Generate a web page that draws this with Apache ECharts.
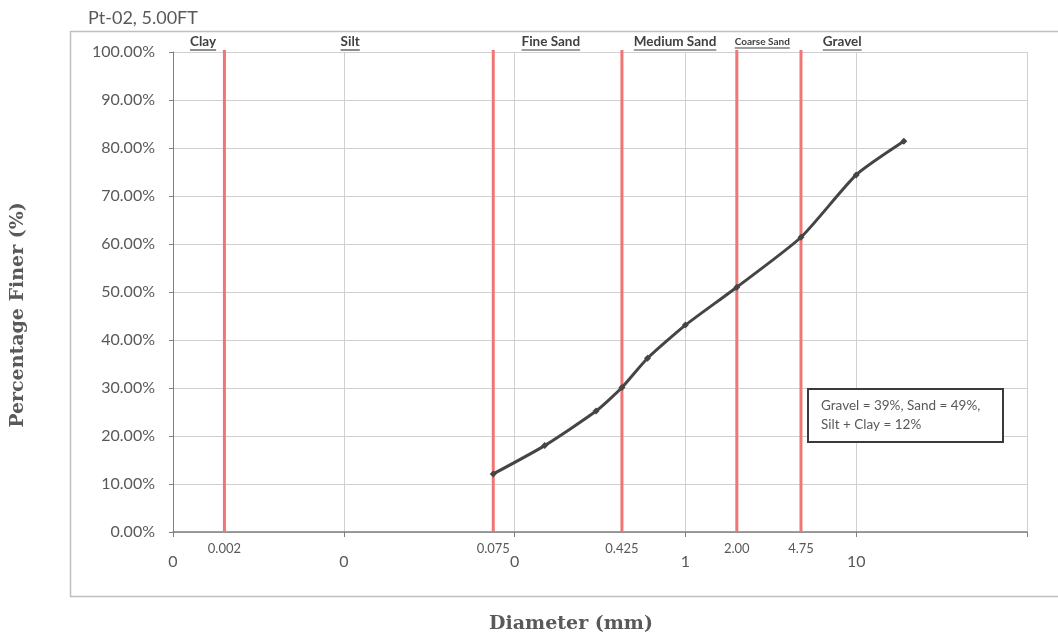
<!DOCTYPE html>
<html>
<head>
<meta charset="utf-8">
<script src="https://cdn.jsdelivr.net/npm/echarts@6/dist/echarts.min.js"></script>
<style>html,body{margin:0;padding:0;background:#fff}#c{width:1058px;height:640px}</style>
</head>
<body>
<div id="c"></div>
<script>
// Data
var diameters = [0.075, 0.15, 0.3, 0.425, 0.6, 1, 2, 4.75, 10, 19];
var percentFiner = [12.1, 18.0, 25.2, 30.1, 36.2, 43.1, 51.0, 61.4, 74.4, 81.4];
var boundaryValues = [0.002, 0.075, 0.425, 2.0, 4.75];
var boundaryLabels = ['0.002', '0.075', '0.425', '2.00', '4.75'];
var zoneNames = ['Clay', 'Silt', 'Fine Sand', 'Medium Sand', 'Coarse Sand', 'Gravel'];
var zonePositions = [0.0015, 0.0109, 0.163, 0.87, 2.82, 8.28];
var yTicks = [0, 10, 20, 30, 40, 50, 60, 70, 80, 90, 100];
var titleText = 'Pt-02, 5.00FT';
var noteLines = ['Gravel = 39%, Sand = 49%,', 'Silt + Clay = 12%'];

var labelFont = 'Lato, "Noto Sans", sans-serif';
var serifFont = '"DejaVu Serif", serif';

var measureCtx = document.createElement('canvas').getContext('2d');
function textWidth(t, font) { measureCtx.font = font; return measureCtx.measureText(t).width; }

var chart = echarts.init(document.getElementById('c'), null, {renderer: 'canvas'});

var option = {
  backgroundColor: '#fff',
  animation: false,
  title: {
    text: titleText, left: 83, top: 4,
    textStyle: {fontFamily: labelFont, fontSize: 18, fontWeight: 'normal', color: '#595959'}
  },
  graphic: [
    {type: 'rect', left: 68, top: 29, shape: {width: 1030, height: 565},
     style: {fill: 'none', stroke: '#bfbfbf', lineWidth: 1.5}, z: 0},
    {type: 'rect', left: 807, top: 388, shape: {width: 195, height: 53},
     style: {fill: '#fff', stroke: '#3a3a3a', lineWidth: 2}, z: 10},
    {type: 'text', left: 821, top: 396, z: 11,
     style: {text: noteLines.join('\n'), fontFamily: labelFont, fontSize: 13.5, fill: '#595959', lineHeight: 19}}
  ],
  grid: {left: 173, right: 31, top: 52, bottom: 108, containLabel: false},
  xAxis: {
    type: 'log', logBase: 10, min: 0.001, max: 100,
    name: 'Diameter (mm)', nameLocation: 'middle', nameGap: 83,
    nameTextStyle: {fontFamily: serifFont, fontWeight: 'bold', fontSize: 19, color: '#595959', padding: [0, 58, 0, 0]},
    axisLine: {show: true, onZero: false, lineStyle: {color: '#7f7f7f', width: 1.5}},
    axisTick: {show: true, length: 5, lineStyle: {color: '#7f7f7f'}},
    axisLabel: {
      margin: 22, fontFamily: labelFont, fontSize: 16, color: '#595959',
      formatter: function (v) { if (v > 50) return ''; return v >= 1 ? String(Math.round(v)) : '0'; }
    },
    splitLine: {show: true, lineStyle: {color: '#d0d0d0', width: 1}},
    minorTick: {show: false}
  },
  yAxis: {
    type: 'value', min: 0, max: 100, interval: 10,
    name: 'Percentage Finer (%)', nameLocation: 'middle', nameGap: 145, nameRotate: 90,
    nameTextStyle: {fontFamily: serifFont, fontWeight: 'bold', fontSize: 19, color: '#595959', padding: [0, 46, 0, 0]},
    axisLine: {show: true, lineStyle: {color: '#7f7f7f', width: 1}},
    axisTick: {show: true, length: 4, lineStyle: {color: '#7f7f7f'}},
    axisLabel: {
      margin: 18, fontFamily: labelFont, fontSize: 16, color: '#595959',
      formatter: function (v) { return yTicks.indexOf(v) >= 0 ? v.toFixed(2) + '%' : ''; }
    },
    splitLine: {show: true, lineStyle: {color: '#d0d0d0', width: 1}}
  },
  series: [
    {
      type: 'custom', name: 'boundaries', z: 2, clip: false, silent: true,
      data: boundaryValues.map(function (v, i) { return [v, i]; }),
      encode: {x: 0},
      renderItem: function (params, api) {
        var idx = api.value(1);
        var x = api.value(0);
        var bottom = api.coord([x, 0]);
        var top = api.coord([x, 100]);
        return {
          type: 'group',
          children: [
            {type: 'line', shape: {x1: bottom[0], y1: bottom[1], x2: top[0], y2: top[1] - 2},
             style: {stroke: '#f07676', lineWidth: 3}},
            {type: 'text', x: bottom[0], y: bottom[1] + 17,
             style: {text: boundaryLabels[idx], font: '13px ' + labelFont, fill: '#595959',
                     align: 'center', verticalAlign: 'middle'}}
          ]
        };
      }
    },
    {
      type: 'line', name: 'Percent Finer', z: 5,
      data: diameters.map(function (d, i) { return [d, percentFiner[i]]; }),
      smooth: 0.2,
      symbol: 'diamond', symbolSize: 7,
      lineStyle: {color: '#454545', width: 3},
      itemStyle: {color: '#454545'}
    },
    {
      type: 'custom', name: 'zones', z: 6, clip: false, silent: true,
      data: zonePositions.map(function (x, i) { return [x, 100, i]; }),
      renderItem: function (params, api) {
        var idx = api.value(2);
        var p = api.coord([api.value(0), api.value(1)]);
        var name = zoneNames[idx];
        var small = name === 'Coarse Sand';
        var fs = small ? 10 : 13.5;
        var font = 'bold ' + fs + 'px ' + labelFont;
        var w = textWidth(name, font);
        var ty = p[1] - 10;
        var uy = small ? ty + 6 : ty + 8;
        return {
          type: 'group',
          children: [
            {type: 'text', x: p[0], y: ty,
             style: {text: name, font: font, fill: '#404040', align: 'center', verticalAlign: 'middle'}},
            {type: 'line', shape: {x1: p[0] - w / 2, y1: uy, x2: p[0] + w / 2, y2: uy},
             style: {stroke: '#404040', lineWidth: 1.2}}
          ]
        };
      }
    }
  ]
};
chart.setOption(option);
</script>
</body>
</html>
